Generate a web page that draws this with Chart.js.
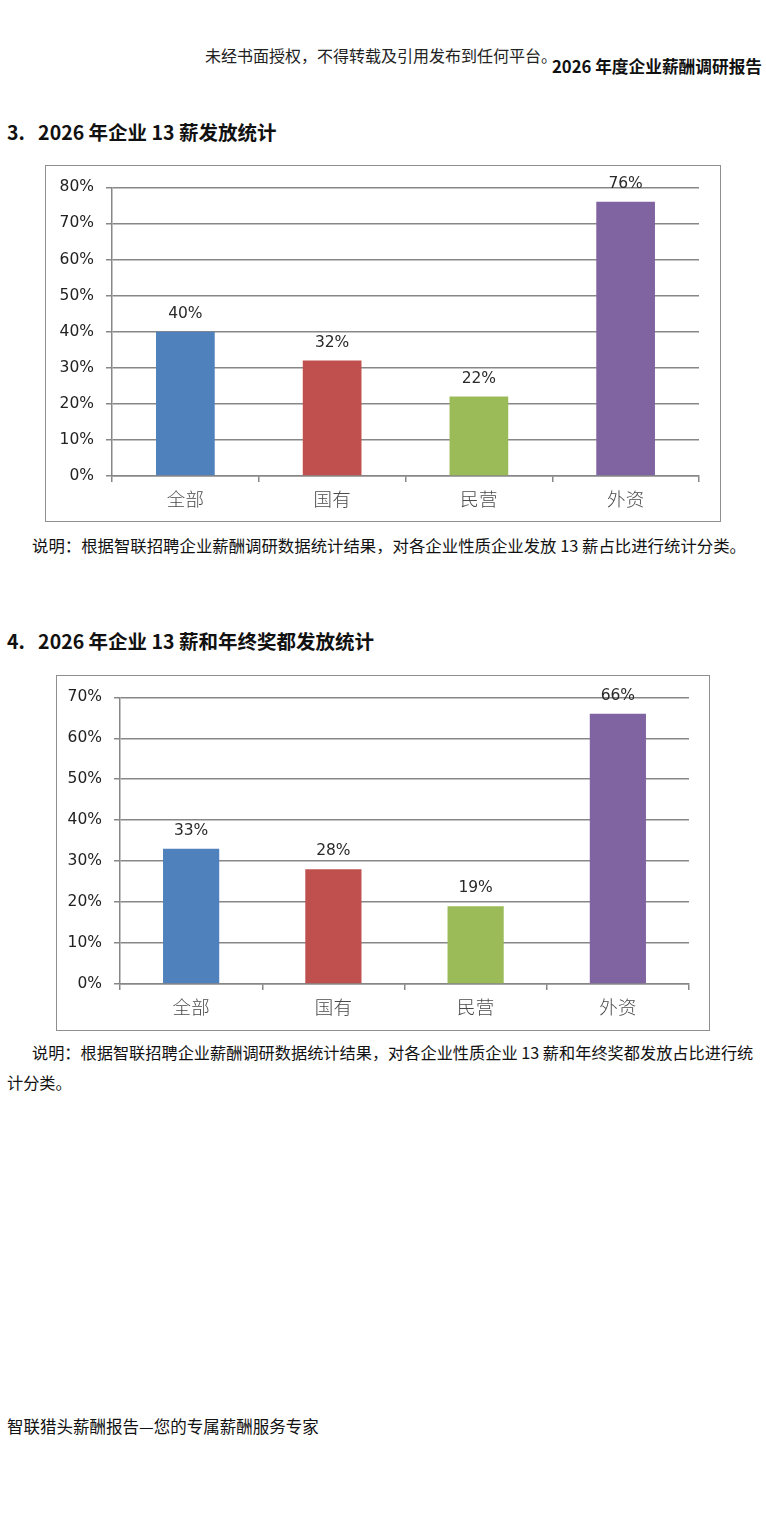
<!DOCTYPE html>
<html>
<head>
<meta charset="utf-8">
<script src="https://cdn.jsdelivr.net/npm/chart.js"></script>
<style>
  html, body { margin: 0; padding: 0; background: #fff; }
  body { width: 766px; height: 1526px; position: relative; font-family: "Noto Sans CJK SC", "Noto Sans", sans-serif; color: #111; }
  .t { position: absolute; white-space: nowrap; }
  .box { position: absolute; border: 1.5px solid #8f8f8f; box-sizing: border-box; }
</style>
</head>
<body>
<div class="t" style="left:205px;top:43px;font-size:16px;line-height:24px;color:#222;">未经书面授权，不得转载及引用发布到任何平台。</div>
<div class="t" style="left:552px;top:54px;font-size:16.7px;line-height:24px;font-weight:bold;">2026 年度企业薪酬调研报告</div>

<div class="t" style="left:7px;top:118px;font-size:19.5px;line-height:28px;font-weight:bold;">3.&nbsp;&nbsp;&nbsp;2026 年企业 13 薪发放统计</div>
<div class="box" style="left:45px;top:165px;width:676px;height:357px;">
  <canvas id="chart1"></canvas>
</div>
<div class="t" style="left:32px;top:532px;font-size:16.4px;line-height:26px;color:#111;">说明：根据智联招聘企业薪酬调研数据统计结果，对各企业性质企业发放 13 薪占比进行统计分类。</div>

<div class="t" style="left:7px;top:627px;font-size:19.5px;line-height:28px;font-weight:bold;">4.&nbsp;&nbsp;&nbsp;2026 年企业 13 薪和年终奖都发放统计</div>
<div class="box" style="left:56px;top:675px;width:654px;height:356px;">
  <canvas id="chart2"></canvas>
</div>
<div class="t" style="left:7px;top:1037px;font-size:16.2px;line-height:30px;color:#111;"><span style="display:inline-block;width:25px;"></span>说明：根据智联招聘企业薪酬调研数据统计结果，对各企业性质企业 13 薪和年终奖都发放占比进行统<br>计分类。</div>

<div class="t" style="left:7px;top:1414px;font-size:16.5px;line-height:24px;color:#111;">智联猎头薪酬报告—您的专属薪酬服务专家</div>

<script>
// 数据
const categorias = ['全部', '国有', '民营', '外资'];
const pago13 = [40, 32, 22, 76];
const pago13YBono = [33, 28, 19, 66];
const coloresBarras = ['#4f81bd', '#c0504d', '#9bbb59', '#8064a2'];

const grisLinea = '#878787';
const fuenteNumeros = '"DejaVu Sans", "Open Sans", sans-serif';

// Etiquetas encima de cada barra
const etiquetasValor = {
    id: 'etiquetasValor',
    afterDatasetsDraw(chart) {
        const ctx = chart.ctx;
        const meta = chart.getDatasetMeta(0);
        ctx.save();
        ctx.font = '15.5px ' + fuenteNumeros;
        ctx.fillStyle = '#2a2a2a';
        ctx.textAlign = 'center';
        ctx.textBaseline = 'middle';
        meta.data.forEach((bar, i) => {
            const v = chart.data.datasets[0].data[i];
            ctx.fillText(v + '%', bar.x, bar.y - 18);
        });
        ctx.restore();
    }
};

function crearGrafico(id, valores, maximo, anchoEjeY, altoEjeX, derecha, barPct) {
    const canvas = document.getElementById(id);
    return new Chart(canvas, {
        type: 'bar',
        data: {
            labels: categorias,
            datasets: [{
                data: valores,
                backgroundColor: coloresBarras,
                borderWidth: 0,
                categoryPercentage: 1,
                barPercentage: barPct
            }]
        },
        options: {
            responsive: true,
            maintainAspectRatio: false,
            animation: false,
            layout: { padding: { top: 19, right: derecha, left: 0, bottom: 0 } },
            plugins: { legend: { display: false }, tooltip: { enabled: false } },
            scales: {
                x: {
                    grid: { display: true, drawOnChartArea: false, offset: true, color: grisLinea, lineWidth: 1.5, tickLength: 6 },
                    border: { color: grisLinea, width: 1.5 },
                    ticks: {
                        color: '#4a4a4a',
                        padding: 6,
                        font: { size: 18.5, family: '"Noto Sans CJK SC", sans-serif', weight: 300 }
                    },
                    afterFit(scale) { scale.height = altoEjeX; }
                },
                y: {
                    min: 0,
                    max: maximo,
                    grid: { color: grisLinea, lineWidth: 1.5, tickLength: 6 },
                    border: { color: grisLinea, width: 1.5 },
                    ticks: {
                        stepSize: 10,
                        color: '#222',
                        padding: 12,
                        font: { size: 15.5, family: fuenteNumeros },
                        callback: v => v + '%'
                    },
                    afterFit(scale) { scale.width = anchoEjeY; }
                }
            }
        },
        plugins: [etiquetasValor]
    });
}

crearGrafico('chart1', pago13, 80, 66, 45, 21, 0.40);
crearGrafico('chart2', pago13YBono, 70, 63, 46, 20, 0.395);
</script>
</body>
</html>
